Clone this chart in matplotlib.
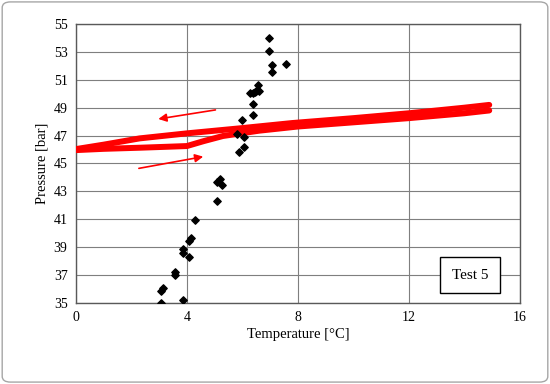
import matplotlib
matplotlib.use("Agg")
import matplotlib.pyplot as plt
from matplotlib.patches import FancyBboxPatch

# Scatter (black diamonds): temperature [°C], pressure [bar]
scatter_T = [6.97, 6.97, 7.08, 7.06, 7.57, 6.57, 6.51, 6.27, 6.39, 6.59, 6.45,
             6.37, 6.37, 5.97, 5.79, 6.07, 6.07, 5.87,
             5.07, 5.19, 5.27, 5.07, 4.28, 4.16, 4.08, 3.87, 3.87, 4.08,
             3.57, 3.57, 3.15, 3.06, 3.87, 3.06]
scatter_P = [54.02, 53.10, 52.04, 51.58, 52.11, 50.63, 50.20, 50.03, 50.03, 50.20, 50.10,
             49.30, 48.48, 48.12, 47.10, 46.88, 46.20, 45.80,
             43.70, 43.87, 43.48, 42.30, 40.95, 39.66, 39.44, 38.85, 38.60, 38.32,
             37.20, 37.03, 36.05, 35.86, 35.20, 35.02]

# Red hysteresis loop: heating branch (lower) and cooling branch (upper)
heat_T = [-0.1, 1.0, 2.3, 3.3, 4.0, 4.6, 5.3, 6.6, 8.0, 10.0, 12.0, 14.0, 14.9]
heat_P = [45.95, 46.05, 46.13, 46.2, 46.25, 46.6, 46.97, 47.35, 47.65, 47.95, 48.25, 48.6, 48.8]
cool_T = [14.9, 14.0, 12.0, 10.0, 7.8, 5.8, 4.0, 2.3, 1.0, -0.1]
cool_P = [49.2, 49.0, 48.6, 48.25, 47.9, 47.5, 47.16, 46.8, 46.35, 46.0]

x_ticks = [0, 4, 8, 12, 16]
y_ticks = [35, 37, 39, 41, 43, 45, 47, 49, 51, 53, 55]

plt.rcParams['font.family'] = ['Liberation Serif', 'DejaVu Serif']

fig = plt.figure(figsize=(5.5, 3.84), dpi=100)
ax = fig.add_axes([0.138, 0.211, 0.807, 0.7265])

ax.plot(heat_T, heat_P, color='#ff0000', lw=4.3, solid_capstyle='round', zorder=3)
ax.plot(cool_T, cool_P, color='#ff0000', lw=4.3, solid_capstyle='round', zorder=3)
ax.scatter(scatter_T, scatter_P, marker='D', s=14, color='black', zorder=4)

# arrows
ax.annotate('', xy=(2.97, 48.19), xytext=(5.03, 48.84),
            arrowprops=dict(arrowstyle='-|>', color='#ff0000', lw=1.2,
                            mutation_scale=12, shrinkA=0, shrinkB=0))
ax.annotate('', xy=(4.59, 45.49), xytext=(2.27, 44.65),
            arrowprops=dict(arrowstyle='-|>', color='#ff0000', lw=1.2,
                            mutation_scale=12, shrinkA=0, shrinkB=0))

ax.set_xlim(0, 16)
ax.set_ylim(35, 55)
ax.set_xticks(x_ticks)
ax.set_yticks(y_ticks)
ax.tick_params(length=0, labelsize=10, pad=6)
ax.grid(True, color='#7f7f7f', lw=0.8)
ax.set_axisbelow(True)
for s in ax.spines.values():
    s.set_color('#595959')
    s.set_linewidth(1.0)

ax.set_xlabel('Temperature [°C]', fontsize=10.5, labelpad=3)
ax.set_ylabel('Pressure [bar]', fontsize=10.5, labelpad=4)

ax.text(14.2, 37.0, 'Test 5', fontsize=11, ha='center', va='center', zorder=5,
        bbox=dict(boxstyle='square,pad=0.75', fc='white', ec='black', lw=1.0))

# outer border
border = FancyBboxPatch((0.004, 0.005), 0.992, 0.99, boxstyle='round,pad=0,rounding_size=0.015',
                        transform=fig.transFigure, fill=False, ec='#a6a6a6', lw=1.0)
fig.patches.append(border)

fig.savefig('out.png', dpi=100)
